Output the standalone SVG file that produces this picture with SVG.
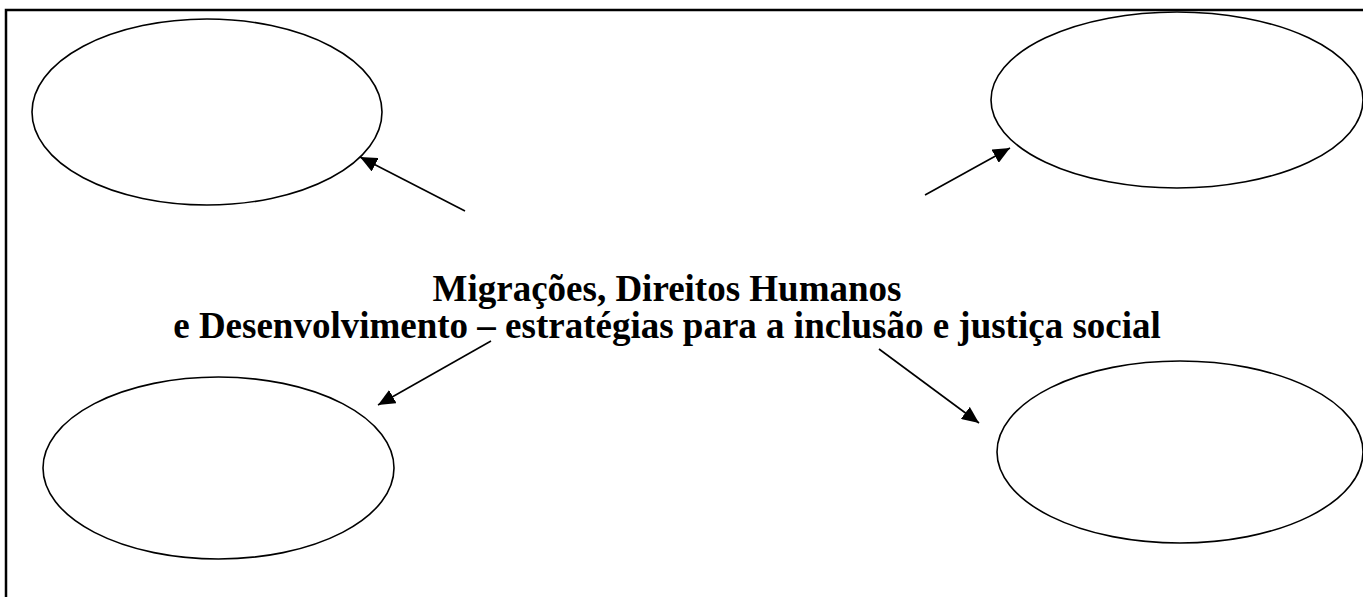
<svg xmlns="http://www.w3.org/2000/svg" width="1363" height="597" viewBox="0 0 1363 597">
<style>
.frame{fill:none;stroke:#000;stroke-width:2.5}
.node{fill:#fff;stroke:#000;stroke-width:1.6}
.conn{fill:none;stroke:#000;stroke-width:1.6}
.title{font-family:"Liberation Serif","Times New Roman",serif;font-weight:bold;font-size:37px;fill:#000;text-anchor:middle}
</style>
<defs>
<marker id="arrow" markerUnits="userSpaceOnUse" markerWidth="18" markerHeight="15" refX="17" refY="7.5" orient="auto">
<path d="M0,0 L17,7.5 L0,15 z" fill="#000"/>
</marker>
</defs>
<rect x="0" y="0" width="1363" height="597" fill="#fff"/>
<rect class="frame" x="6" y="10" width="1400" height="700"/>
<g id="node-top-left"><ellipse class="node" cx="207" cy="112" rx="175" ry="93"/></g>
<g id="node-top-right"><ellipse class="node" cx="1177" cy="100" rx="186" ry="88"/></g>
<g id="node-bottom-left"><ellipse class="node" cx="218.5" cy="468" rx="175.5" ry="91"/></g>
<g id="node-bottom-right"><ellipse class="node" cx="1180" cy="452" rx="183" ry="91"/></g>
<g id="connectors">
<line class="conn" x1="465" y1="211" x2="360" y2="157" marker-end="url(#arrow)"/>
<line class="conn" x1="925" y1="195" x2="1010" y2="148" marker-end="url(#arrow)"/>
<line class="conn" x1="491" y1="341" x2="378" y2="405" marker-end="url(#arrow)"/>
<line class="conn" x1="879" y1="349" x2="979" y2="423" marker-end="url(#arrow)"/>
</g>
<g id="center-title">
<text class="title" x="667" y="301">Migrações, Direitos Humanos</text>
<text class="title" x="667" y="338">e Desenvolvimento – estratégias para a inclusão e justiça social</text>
</g>
</svg>
